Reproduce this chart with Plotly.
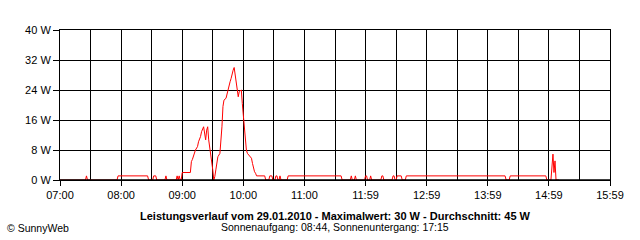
import plotly.graph_objects as go

# time in minutes after 07:00, power in W
minutes = [0, 25, 26, 27, 56, 57, 86, 87, 91, 92, 94, 95, 103, 104, 105,
           114, 115, 116, 117, 118, 119, 120, 128, 129, 130, 132, 133, 135,
           136, 138, 139, 141, 142, 143, 144, 145, 146, 147, 148, 149, 150,
           151, 152, 153, 154, 155, 157, 158, 159, 160, 161, 163, 164, 165,
           166, 167, 168, 169, 170, 171, 172, 173, 174, 175, 176, 178, 179,
           180, 181, 182, 183, 184, 185, 188, 189, 190, 191, 192, 193, 201,
           202, 205, 206, 208, 209, 211, 212, 213, 214, 215, 216, 217, 223,
           224, 276, 277, 285, 286, 287, 289, 290, 291, 299, 300, 301, 302,
           304, 305, 306, 315, 316, 317, 318, 326, 327, 328, 329, 330, 331,
           335, 336, 339, 340, 437, 438, 441, 442, 477, 478, 482, 483, 484,
           485, 486, 487, 490]
watts = [0, 0, 1.1, 0, 0, 1.1, 1.1, 0, 0, 1.1, 1.1, 0, 0, 1.1, 0,
         0, 1.1, 0, 1.1, 0, 0, 2.0, 2.0, 4.9, 5.5, 7.1, 8.0, 8.9,
         10.2, 11.6, 12.9, 14.2, 12.0, 10.7, 13.3, 14.2, 10.7, 8.9, 6.7, 4.4, 2.7,
         0, 0.9, 2.7, 4.9, 6.2, 7.1, 9.8, 14.2, 19.6, 21.3, 21.8, 23.1, 24.0,
         25.8, 26.2, 27.1, 28.4, 29.3, 30.0, 28.0, 26.7, 24.4, 22.2, 23.6, 24.0, 20.4,
         16.9, 14.2, 10.7, 8.0, 7.1, 6.7, 5.8, 4.4, 2.7, 2.2, 1.8, 1.1, 1.1,
         0, 0, 1.1, 1.1, 0, 0, 1.1, 1.1, 0, 0, 1.1, 0, 0,
         1.1, 1.1, 0, 0, 1.1, 0, 0, 1.1, 0, 0, 1.1, 1.1, 0,
         0, 1.1, 0, 0, 1.1, 1.1, 0, 0, 1.1, 1.1, 0, 0, 1.1,
         1.1, 0, 0, 1.1, 1.1, 0, 0, 1.1, 1.1, 0, 0, 3.1, 6.9,
         2.0, 5.1, 0, 0]

x_tickvals = [0, 60, 120, 180, 240, 300, 360, 420, 480, 540]
x_ticktext = ["07:00", "08:00", "09:00", "10:00", "11:00", "11:59", "12:59",
              "13:59", "14:59", "15:59"]
y_tickvals = [0, 8, 16, 24, 32, 40]
y_ticktext = ["0 W", "8 W", "16 W", "24 W", "32 W", "40 W"]

title_text = "Leistungsverlauf vom 29.01.2010 - Maximalwert: 30 W - Durchschnitt: 45 W"
sub_text = "Sonnenaufgang: 08:44, Sonnenuntergang: 17:15"
credit_text = "© SunnyWeb"

FONT = "Liberation Sans"

fig = go.Figure()
fig.add_trace(go.Scatter(x=minutes, y=watts, mode="lines",
                         line=dict(color="#ff0000", width=1),
                         hoverinfo="skip", showlegend=False))

fig.update_layout(
    width=640, height=240,
    margin=dict(l=60, r=30, t=30, b=60),
    paper_bgcolor="white", plot_bgcolor="white",
    font=dict(family=FONT, size=11, color="black"),
    showlegend=False,
)
fig.update_xaxes(
    range=[0, 540], tickvals=x_tickvals, ticktext=x_ticktext,
    ticks="outside", ticklen=5, tickcolor="black", tickwidth=1,
    showgrid=True, gridcolor="black", gridwidth=1,
    minor=dict(dtick=30, tick0=0, showgrid=True, gridcolor="black", gridwidth=1),
    showline=True, linecolor="black", linewidth=1, mirror=True,
    zeroline=False, tickfont=dict(family=FONT, size=11, color="black"),
    fixedrange=True,
)
fig.update_yaxes(
    range=[0, 40], tickvals=y_tickvals, ticktext=y_ticktext,
    ticks="outside", ticklen=6, tickcolor="black", tickwidth=1,
    showgrid=True, gridcolor="black", gridwidth=1,
    showline=True, linecolor="black", linewidth=1, mirror=True,
    zeroline=False, tickfont=dict(family=FONT, size=11, color="black"),
    fixedrange=True,
)

# baseline drawn above the data, so zero readings sit under the black axis
fig.add_shape(type="line", xref="paper", yref="y", x0=0, x1=1, y0=0, y1=0,
              line=dict(color="black", width=1.5), layer="above")

fig.add_annotation(text="<b>" + title_text + "</b>", xref="paper", yref="paper",
                   x=0.5, y=-0.24, xanchor="center", yanchor="middle",
                   showarrow=False, font=dict(family=FONT, size=11, color="black"))
fig.add_annotation(text=sub_text, xref="paper", yref="paper",
                   x=0.5, y=-0.315, xanchor="center", yanchor="middle",
                   showarrow=False, font=dict(family=FONT, size=10.5, color="black"))
fig.add_annotation(text=credit_text, xref="paper", yref="paper",
                   x=-0.1, y=-0.32, xanchor="left", yanchor="middle",
                   showarrow=False, font=dict(family=FONT, size=10.5, color="black"))

fig.write_html("out.html", config={"displayModeBar": False})
